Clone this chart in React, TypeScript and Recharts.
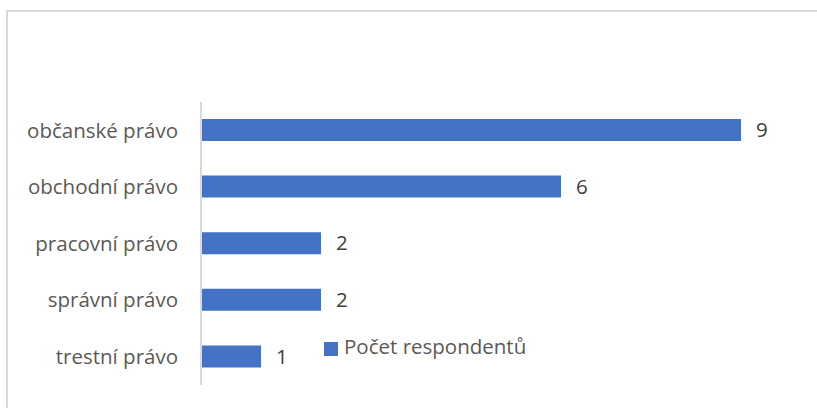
import { BarChart, Bar, XAxis, YAxis, Legend, LabelList } from "recharts";

const categories = ["občanské právo", "obchodní právo", "pracovní právo", "správní právo", "trestní právo"];
const counts = [9, 6, 2, 2, 1];
const seriesName = "Počet respondentů";

const data = categories.map((c, i) => ({ name: c, value: counts[i] }));

const FONT = "'Open Sans', sans-serif";

export default function App() {
  return (
    <div style={{ position: "fixed", left: 0, top: 0, width: 817, height: 408, background: "#fff", fontFamily: FONT }}>
      {/* chart area frame (only top and left edges are in view) */}
      <div
        style={{
          position: "absolute",
          left: 6,
          top: 10,
          width: 811,
          height: 398,
          borderTop: "2px solid #d9d9d9",
          borderLeft: "2px solid #d9d9d9",
          boxSizing: "border-box",
        }}
      />
      <BarChart
        width={817}
        height={408}
        data={data}
        layout="vertical"
        margin={{ top: 102, right: 16, bottom: 23, left: 0 }}
        barSize={22}
        style={{ position: "absolute", left: 0, top: 0 }}
      >
        <XAxis type="number" domain={[0, 10]} hide />
        <YAxis
          type="category"
          dataKey="name"
          width={201}
          tickLine={false}
          tickSize={0}
          tickMargin={23}
          axisLine={{ stroke: "#d9d9d9", strokeWidth: 2 }}
          tick={{ fill: "#595959", fontSize: 20.5, fontFamily: FONT }}
        />
        <Legend
          layout="vertical"
          verticalAlign="middle"
          align="center"
          iconType="square"
          iconSize={14}
          wrapperStyle={{ left: 324, top: 332, width: 260, fontSize: 20.5, fontFamily: FONT }}
          formatter={(v) => <span style={{ color: "#595959", marginLeft: 2 }}>{v}</span>}
        />
        <Bar dataKey="value" name={seriesName} fill="#4472C4" isAnimationActive={false}>
          <LabelList dataKey="value" position="right" offset={15} fill="#404040" fontSize={20.5} fontFamily={FONT} />
        </Bar>
      </BarChart>
    </div>
  );
}
